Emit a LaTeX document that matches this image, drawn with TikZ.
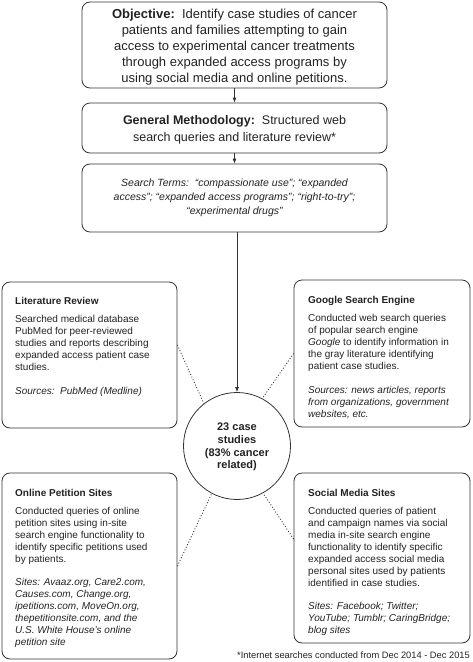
\documentclass[tikz,border=0pt]{standalone}
\usepackage{fontspec}
\setmainfont{Liberation Sans}
\usetikzlibrary{arrows.meta}
\definecolor{ink}{HTML}{222222}
\definecolor{edge}{HTML}{333333}
\begin{document}
\begin{tikzpicture}[x=1pt,y=-1pt,
  box/.style={draw=edge, line width=0.8pt, rounded corners=8pt, inner sep=0pt},
  txt/.style={inner sep=0pt, text=ink},
  arr/.style={draw=edge, line width=0.8pt, -{Latex[length=5pt,width=4pt]}},
  dots/.style={draw=edge, line width=0.9pt, dotted}]
\useasboundingbox (0,0) rectangle (472,662);
% boxes
\node[box, minimum width=305pt, minimum height=86pt] (obj) at (234.5,45) {};
\node[box, minimum width=305pt, minimum height=50pt] (meth) at (234.5,128) {};
\node[box, minimum width=305pt, minimum height=68pt] (srch) at (234.5,198) {};
\node[draw=edge, line width=0.8pt, circle, minimum size=107pt, inner sep=0pt] (circ) at (237,446) {};
\node[box, minimum width=175pt, minimum height=146pt] (lit) at (89.5,355) {};
\node[box, minimum width=176pt, minimum height=147pt] (goo) at (382,353.5) {};
\node[box, minimum width=175pt, minimum height=186pt] (pet) at (89.5,566) {};
\node[box, minimum width=176pt, minimum height=170pt] (soc) at (382,558) {};
% texts
\node[txt, align=center, font=\fontsize{13}{16}\selectfont] (objt) at (234.5,47)
 {\textbf{Objective:}\ \ Identify case studies of cancer\\
  patients and families attempting to gain\\
  access to experimental cancer treatments\\
  through expanded access programs by\\
  using social media and online petitions.};
\node[txt, align=center, font=\fontsize{12.5}{17}\selectfont] (metht) at (234.5,129.5)
 {\textbf{General Methodology:}\ \ Structured web\\
  search queries and literature review*};
\node[txt, align=center, font=\fontsize{10.5}{14}\selectfont\itshape] (srcht) at (234.5,198)
 {Search Terms:\ \ ``compassionate use''; ``expanded\\
  access''; ``expanded access programs''; ``right-to-try'';\\
  ``experimental drugs''};
\node[txt, align=center, font=\fontsize{11}{12.7}\selectfont\bfseries] (circt) at (237,447)
 {23 case\\studies\\(83\% cancer\\related)};
\node[txt, anchor=west, align=left, font=\fontsize{10}{12}\selectfont] (litt) at (15,346.5)
 {\textbf{Literature Review}\\[6pt]
  Searched medical database\\
  PubMed for peer-reviewed\\
  studies and reports describing\\
  expanded access patient case\\
  studies.\\[12pt]
  \textit{Sources:\ \ PubMed (Medline)}};
\node[txt, anchor=west, align=left, font=\fontsize{10}{12}\selectfont] (goot) at (308,358)
 {\textbf{Google Search Engine}\\[6pt]
  Conducted web search queries\\
  of popular search engine\\
  \textit{Google} to identify information in\\
  the gray literature identifying\\
  patient case studies.\\[12pt]
  \textit{Sources: news articles, reports}\\
  \textit{from organizations, government}\\
  \textit{websites, etc.}};
\node[txt, anchor=west, align=left, font=\fontsize{10}{12}\selectfont] (pett) at (15,568.5)
 {\textbf{Online Petition Sites}\\[6pt]
  Conducted queries of online\\
  petition sites using in-site\\
  search engine functionality to\\
  identify specific petitions used\\
  by patients.\\[11pt]
  \textit{Sites: Avaaz.org, Care2.com,}\\
  \textit{Causes.com, Change.org,}\\
  \textit{ipetitions.com, MoveOn.org,}\\
  \textit{thepetitionsite.com, and the}\\
  \textit{U.S. White House's online}\\
  \textit{petition site}};
\node[txt, anchor=west, align=left, font=\fontsize{10}{12}\selectfont] (soct) at (308,562.5)
 {\textbf{Social Media Sites}\\[6pt]
  Conducted queries of patient\\
  and campaign names via social\\
  media in-site search engine\\
  functionality to identify specific\\
  expanded access social media\\
  personal sites used by patients\\
  identified in case studies.\\[11pt]
  \textit{Sites: Facebook; Twitter;}\\
  \textit{YouTube; Tumblr; CaringBridge;}\\
  \textit{blog sites}};
\node[txt, anchor=east, font=\fontsize{9.3}{11}\selectfont] (foot) at (470,655.5)
 {*Internet searches conducted from Dec 2014 - Dec 2015};
% connectors
\draw[arr] (obj) -- (meth);
\draw[arr] (meth) -- (srch);
\draw[arr] (circ.north |- srch.south) -- (circ.north);
\draw[dots] ([yshift=10pt]lit.east) -- (circ.128);
\draw[dots] (goo.west) -- (circ.62);
\draw[dots] (pet.east) -- (circ.242);
\draw[dots] ([yshift=19pt]soc.west) -- (circ.299);
\end{tikzpicture}
\end{document}
